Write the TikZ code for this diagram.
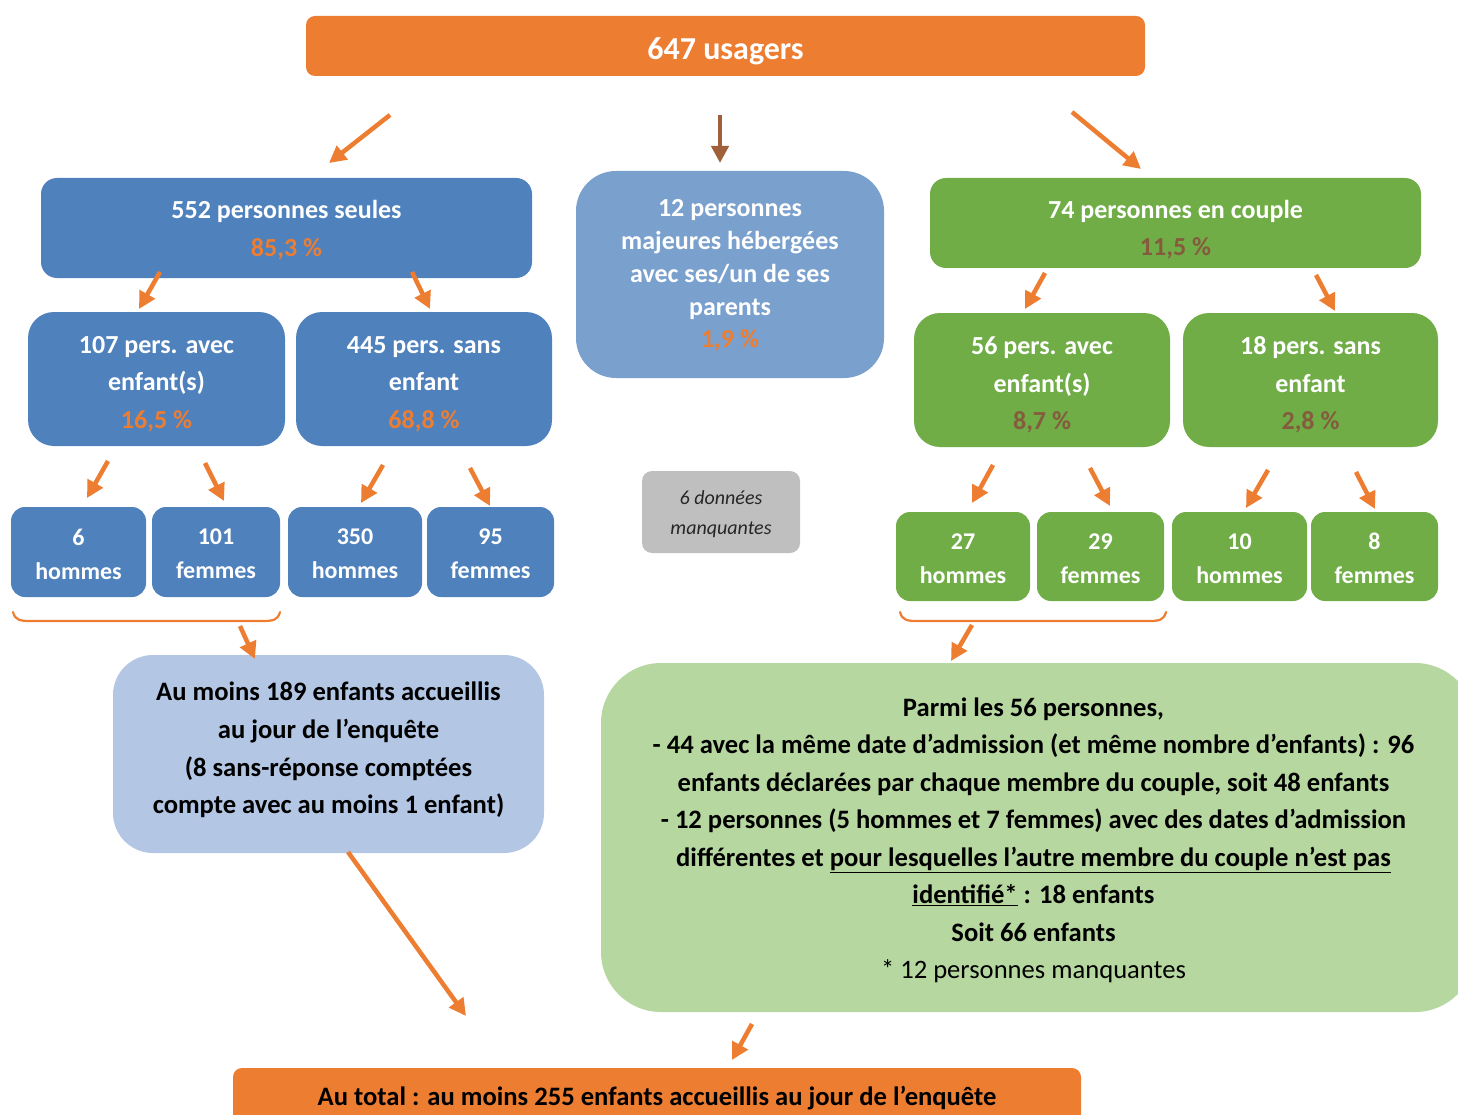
\documentclass[tikz,border=0pt]{standalone}
\usepackage{fontspec}
\setmainfont{Carlito}
\usetikzlibrary{arrows.meta}
\definecolor{cOrange}{HTML}{ED7D31}
\definecolor{cBlue}{HTML}{4F81BD}
\definecolor{cMidBlue}{HTML}{7AA0CD}
\definecolor{cLightBlue}{HTML}{B3C7E5}
\definecolor{cGreen}{HTML}{70AD47}
\definecolor{cLightGreen}{HTML}{B7D7A0}
\definecolor{cGray}{HTML}{BFBFBF}
\definecolor{cBrownArrow}{HTML}{A0613A}
\definecolor{cBrownText}{HTML}{845B3D}
\tikzset{
  boxbase/.style={inner sep=0pt},
  txt/.style={inner sep=0pt, align=center},
  bigtext/.style={font=\fontsize{26}{37.5}\selectfont\bfseries},
  smalltext/.style={font=\fontsize{24}{34}\selectfont\bfseries},
  arr/.style={draw=cOrange, line width=4.5pt, -{Triangle[length=17pt,width=17pt]}},
  brace/.style={draw=cOrange, line width=2.2pt, line cap=round},
}
\newcommand{\po}[1]{\textcolor{cOrange}{#1}}
\newcommand{\pb}[1]{\textcolor{cBrownText}{#1}}
\begin{document}
\begin{tikzpicture}[x=1pt,y=-1pt]
\useasboundingbox (0,0) rectangle (1458,1115);
% top
\node[boxbase, fill=cOrange, rounded corners=9pt, minimum width=839pt, minimum height=60pt] (top) at (725.5,46) {};
\node[txt, text=white, font=\fontsize{32}{38}\selectfont\bfseries, yshift=-5pt] (topt) at (top) {647 usagers};
% level 1
\node[boxbase, fill=cBlue, rounded corners=16pt, minimum width=491pt, minimum height=100pt] (s552) at (286.5,228) {};
\node[txt, bigtext, text=white, font=\fontsize{26}{38.5}\selectfont\bfseries, yshift=-2pt] (s552t) at (s552) {552 personnes seules\\\po{85,3 \%}};
\node[boxbase, fill=cMidBlue, rounded corners=40pt, minimum width=308pt, minimum height=207pt] (s12) at (730,274.5) {};
\node[txt, text=white, font=\fontsize{26}{32.8}\selectfont\bfseries, yshift=-1pt] (s12t) at (s12) {12 personnes\\majeures hébergées\\avec ses/un de ses\\parents\\\po{1,9 \%}};
\node[boxbase, fill=cGreen, rounded corners=16pt, minimum width=491pt, minimum height=90pt] (s74) at (1175.5,223) {};
\node[txt, text=white, font=\fontsize{26}{37}\selectfont\bfseries, yshift=-7pt] (s74t) at (s74) {74 personnes en couple\\\pb{11,5 \%}};
% level 2
\node[boxbase, fill=cBlue, rounded corners=26pt, minimum width=257pt, minimum height=134pt] (s107) at (156.5,379) {};
\node[txt, bigtext, text=white, yshift=-5pt] (s107t) at (s107) {107 pers. avec\\enfant(s)\\\po{16,5 \%}};
\node[boxbase, fill=cBlue, rounded corners=26pt, minimum width=256pt, minimum height=134pt] (s445) at (424,379) {};
\node[txt, bigtext, text=white, yshift=-5pt] (s445t) at (s445) {445 pers. sans\\enfant\\\po{68,8 \%}};
\node[boxbase, fill=cGreen, rounded corners=26pt, minimum width=256pt, minimum height=134pt] (s56) at (1042,380) {};
\node[txt, bigtext, text=white, yshift=-5pt] (s56t) at (s56) {56 pers. avec\\enfant(s)\\\pb{8,7 \%}};
\node[boxbase, fill=cGreen, rounded corners=26pt, minimum width=255pt, minimum height=134pt] (s18) at (1310.5,380) {};
\node[txt, bigtext, text=white, yshift=-5pt] (s18t) at (s18) {18 pers. sans\\enfant\\\pb{2,8 \%}};
% level 3 blue
\node[boxbase, fill=cBlue, rounded corners=14pt, minimum width=135pt, minimum height=90pt] (b6) at (78.5,552) {};
\node[txt, smalltext, text=white, yshift=-2pt] (b6t) at (b6) {6\\hommes};
\node[boxbase, fill=cBlue, rounded corners=14pt, minimum width=128pt, minimum height=90pt] (b101) at (216,552) {};
\node[txt, smalltext, text=white, yshift=-2pt] (b101t) at (b101) {101\\femmes};
\node[boxbase, fill=cBlue, rounded corners=14pt, minimum width=134pt, minimum height=90pt] (b350) at (355,552) {};
\node[txt, smalltext, text=white, yshift=-2pt] (b350t) at (b350) {350\\hommes};
\node[boxbase, fill=cBlue, rounded corners=14pt, minimum width=127pt, minimum height=90pt] (b95) at (490.5,552) {};
\node[txt, smalltext, text=white, yshift=-2pt] (b95t) at (b95) {95\\femmes};
% level 3 green
\node[boxbase, fill=cGreen, rounded corners=14pt, minimum width=134pt, minimum height=89pt] (b27) at (963,556.5) {};
\node[txt, smalltext, text=white, yshift=-2pt] (b27t) at (b27) {27\\hommes};
\node[boxbase, fill=cGreen, rounded corners=14pt, minimum width=127pt, minimum height=89pt] (b29) at (1100.5,556.5) {};
\node[txt, smalltext, text=white, yshift=-2pt] (b29t) at (b29) {29\\femmes};
\node[boxbase, fill=cGreen, rounded corners=14pt, minimum width=135pt, minimum height=89pt] (b10) at (1239.5,556.5) {};
\node[txt, smalltext, text=white, yshift=-2pt] (b10t) at (b10) {10\\hommes};
\node[boxbase, fill=cGreen, rounded corners=14pt, minimum width=127pt, minimum height=89pt] (b8) at (1374.5,556.5) {};
\node[txt, smalltext, text=white, yshift=-2pt] (b8t) at (b8) {8\\femmes};
% gray
\node[boxbase, fill=cGray, rounded corners=10pt, minimum width=158pt, minimum height=82pt] (gray) at (721,512) {};
\node[txt, text=black!85, font=\fontsize{20}{30}\selectfont\itshape, yshift=-2pt] (grayt) at (gray) {6 données\\manquantes};
% light blue
\node[boxbase, fill=cLightBlue, rounded corners=40pt, minimum width=431pt, minimum height=198pt] (lb) at (328.5,754) {};
\node[txt, text=black, font=\fontsize{26.6}{37.7}\selectfont\bfseries, yshift=4pt] (lbt) at (lb) {Au moins 189 enfants accueillis\\au jour de l’enquête\\(8 sans-réponse comptées\\compte avec au moins 1 enfant)};
% light green
\node[boxbase, fill=cLightGreen, rounded corners=60pt, minimum width=874pt, minimum height=349pt] (lg) at (1038,837.5) {};
\node[txt, text=black, font=\fontsize{26.6}{37.5}\selectfont\bfseries, xshift=-4.5pt, yshift=-3pt] (lgt) at (lg) {Parmi les 56 personnes,\\- 44 avec la même date d’admission (et même nombre d’enfants) : 96\\enfants déclarées par chaque membre du couple, soit 48 enfants\\- 12 personnes (5 hommes et 7 femmes) avec des dates d’admission\\différentes et \underline{pour lesquelles l’autre membre du couple n’est pas}\\\underline{identifié*} : 18 enfants\\Soit 66 enfants\\{\mdseries * 12 personnes manquantes}};
% bottom
\node[boxbase, fill=cOrange, rounded corners=9pt, minimum width=848pt, minimum height=62pt] (bot) at (657,1099) {};
\node[txt, text=black, font=\fontsize{26.6}{30}\selectfont\bfseries, yshift=1pt] (bott) at (bot) {Au total : au moins 255 enfants accueillis au jour de l’enquête};
% braces
\draw[brace] (13,612) .. controls (15,620) and (20,621) .. (30,621) -- (263,621) .. controls (273,621) and (278,620) .. (280,612);
\draw[brace] (900,612) .. controls (902,620) and (907,621) .. (917,621) -- (1149,621) .. controls (1159,621) and (1164,620) .. (1166,612);
% arrow coordinates
\coordinate (a1s) at (390,115); \coordinate (a1e) at (329,163);
\coordinate (a2s) at (720,115); \coordinate (a2e) at (720,163);
\coordinate (a3s) at (1072,112); \coordinate (a3e) at (1141,169);
\coordinate (a4s) at (160,272); \coordinate (a4e) at (139,309);
\coordinate (a5s) at (412,272); \coordinate (a5e) at (430,309);
\coordinate (a6s) at (1045,273); \coordinate (a6e) at (1025,309);
\coordinate (a7s) at (1316,275); \coordinate (a7e) at (1335,311);
\coordinate (a8s) at (108,461); \coordinate (a8e) at (87,498);
\coordinate (a9s) at (205,463); \coordinate (a9e) at (224,501);
\coordinate (a10s) at (383,465); \coordinate (a10e) at (361,503);
\coordinate (a11s) at (470,468); \coordinate (a11e) at (490,506);
\coordinate (a12s) at (993,465); \coordinate (a12e) at (972,503);
\coordinate (a13s) at (1090,468); \coordinate (a13e) at (1110,506);
\coordinate (a14s) at (1268,470); \coordinate (a14e) at (1246,508);
\coordinate (a15s) at (1356,472); \coordinate (a15e) at (1375,509);
\coordinate (a16s) at (240,626); \coordinate (a16e) at (255,659);
\coordinate (a17s) at (972,625); \coordinate (a17e) at (951,661);
\coordinate (a18s) at (348,852); \coordinate (a18e) at (466,1016);
\coordinate (a19s) at (752,1024); \coordinate (a19e) at (732,1060);
\foreach \i in {1,3,4,5,6,7,8,9,10,11,12,13,14,15,16,17,18,19}{
  \draw[arr] (a\i s) -- (a\i e);
}
\draw[arr, draw=cBrownArrow] (a2s) -- (a2e);
\end{tikzpicture}
\end{document}
